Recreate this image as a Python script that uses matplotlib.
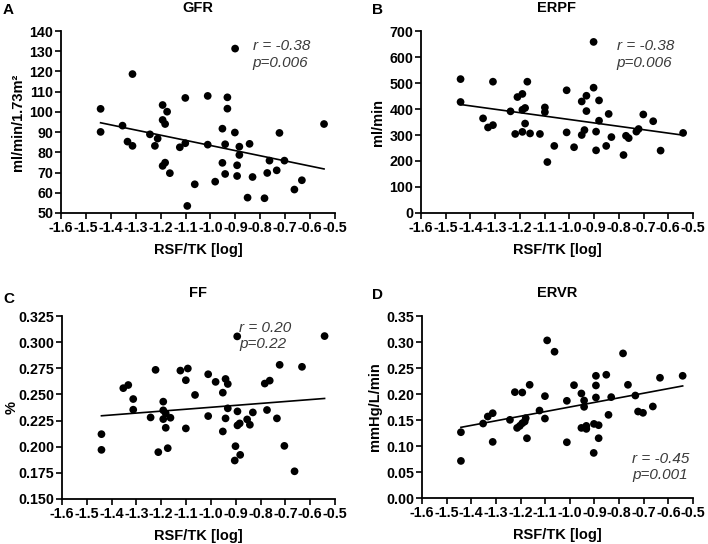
import numpy as np
import matplotlib
matplotlib.use("Agg")
import matplotlib.pyplot as plt

plt.rcParams['font.family'] = ['Liberation Sans', 'DejaVu Sans']

# ---------------- data ----------------
gfr_x = [-1.441, -1.441, -1.313, -1.353, -1.333, -1.313, -1.243, -1.212, -1.223, -1.192,
         -1.174, -1.192, -1.182, -1.192, -1.182, -1.163, -1.123, -1.101, -1.101, -1.063,
         -1.093, -0.901, -1.011, -0.932, -0.932, -0.952, -0.902, -1.011, -0.941, -0.884,
         -0.884, -0.843, -0.952, -0.893, -0.941, -0.893, -0.981, -0.831, -0.851, -0.783,
         -0.763, -0.772, -0.734, -0.723, -0.703, -0.633, -0.663, -0.544]
gfr_y = [101.5, 90.1, 118.7, 93.2, 85.3, 83.2, 88.9, 86.8, 83.2, 103.4,
         100.1, 96.0, 94.0, 73.3, 74.9, 69.7, 82.5, 84.5, 106.9, 64.2,
         53.5, 131.3, 107.9, 107.2, 101.6, 91.7, 89.8, 83.8, 84.0, 82.8,
         78.7, 84.2, 74.8, 73.6, 69.3, 68.3, 65.5, 67.8, 57.6, 57.3,
         75.9, 69.8, 71.1, 89.6, 75.9, 66.2, 61.6, 94.0]

erpf_x = [-1.440, -1.440, -1.309, -1.349, -1.329, -1.309, -1.238, -1.210, -1.190, -1.170,
          -1.190, -1.179, -1.179, -1.219, -1.190, -1.159, -1.119, -1.099, -1.099, -1.061,
          -1.089, -0.902, -1.011, -0.902, -0.931, -0.950, -0.880, -0.931, -0.841, -0.880,
          -0.701, -0.661, -1.011, -0.939, -0.950, -0.892, -0.892, -0.851, -0.830, -0.981,
          -0.781, -0.771, -0.760, -0.729, -0.720, -0.631, -0.540]
erpf_y = [515, 427, 505, 364, 329, 338, 391, 446, 458, 505,
          397, 404, 344, 304, 312, 306, 304, 406, 388, 258,
          196, 658, 472, 482, 451, 429, 433, 392, 381, 355,
          379, 353, 310, 319, 300, 313, 241, 258, 292, 253,
          223, 297, 288, 313, 323, 240, 308]

ff_x = [-1.441, -1.441, -1.353, -1.333, -1.313, -1.313, -1.243, -1.223, -1.212, -1.192,
        -1.192, -1.182, -1.192, -1.163, -1.182, -1.174, -1.123, -1.093, -1.101, -1.064,
        -1.101, -0.894, -0.542, -1.011, -0.981, -0.941, -0.932, -0.952, -0.723, -0.633,
        -0.783, -0.763, -0.932, -0.893, -0.831, -1.011, -0.941, -0.774, -0.734, -0.893,
        -0.884, -0.854, -0.843, -0.952, -0.901, -0.882, -0.904, -0.704, -0.663]
ff_y = [0.212, 0.197, 0.256, 0.259, 0.2456, 0.2354, 0.228, 0.2735, 0.1948, 0.2431,
        0.2348, 0.2319, 0.2264, 0.2277, 0.2181, 0.1986, 0.2728, 0.2748, 0.2636, 0.2495,
        0.2175, 0.3055, 0.3058, 0.2693, 0.262, 0.2648, 0.260, 0.2517, 0.2783, 0.2764,
        0.2604, 0.2632, 0.2367, 0.2338, 0.2328, 0.2293, 0.2271, 0.2351, 0.2271, 0.2204,
        0.2223, 0.2261, 0.221, 0.2146, 0.2005, 0.1922, 0.1868, 0.2008, 0.1765]

ervr_x = [-1.442, -1.442, -1.352, -1.333, -1.313, -1.313, -1.243, -1.223, -1.193, -1.163,
          -1.214, -1.203, -1.193, -1.183, -1.179, -1.174, -1.123, -1.101, -1.101, -1.092,
          -1.062, -0.784, -1.012, -1.012, -0.983, -0.953, -0.953, -0.942, -0.942, -0.933,
          -0.933, -0.903, -0.902, -0.894, -0.894, -0.894, -0.883, -0.883, -0.852, -0.843,
          -0.832, -0.764, -0.734, -0.723, -0.703, -0.663, -0.634, -0.542]
ervr_y = [0.1265, 0.0713, 0.1432, 0.1567, 0.1631, 0.1079, 0.1503, 0.2036, 0.2029, 0.2177,
          0.1348, 0.1387, 0.1438, 0.147, 0.1535, 0.1149, 0.1682, 0.1959, 0.1528, 0.3031,
          0.2813, 0.2781, 0.1869, 0.1072, 0.217, 0.201, 0.1348, 0.1875, 0.1753, 0.1387,
          0.1329, 0.0867, 0.1425, 0.235, 0.2164, 0.1933, 0.140, 0.115, 0.237, 0.1599,
          0.194, 0.2177, 0.1971, 0.1663, 0.1638, 0.176, 0.2312, 0.235]

x_ticks = [-1.6, -1.5, -1.4, -1.3, -1.2, -1.1, -1.0, -0.9, -0.8, -0.7, -0.6, -0.5]
x_tick_labels = ['-1.6', '-1.5', '-1.4', '-1.3', '-1.2', '-1.1', '-1.0', '-0.9', '-0.8', '-0.7', '-0.6', '-0.5']

panels = [
    dict(letter='A', title='GFR', x=gfr_x, y=gfr_y, ylabel='ml/min/1.73m\u00b2',
         yticks=[50, 60, 70, 80, 90, 100, 110, 120, 130, 140], yfmt='{:.0f}',
         stat='r = -0.38\np=0.006', statpos=(0.70, 0.955),
         rect=(61, 31, 335, 213), letterpos=(3, 10), ylpad=3),
    dict(letter='B', title='ERPF', x=erpf_x, y=erpf_y, ylabel='ml/min',
         yticks=[0, 100, 200, 300, 400, 500, 600, 700], yfmt='{:.0f}',
         stat='r = -0.38\np=0.006', statpos=(0.72, 0.955),
         rect=(421, 31, 693, 213), letterpos=(372, 10), ylpad=3),
    dict(letter='C', title='FF', x=ff_x, y=ff_y, ylabel='%',
         yticks=[0.150, 0.175, 0.200, 0.225, 0.250, 0.275, 0.300, 0.325], yfmt='{:.3f}',
         stat='r = 0.20\np=0.22', statpos=(0.65, 0.975),
         rect=(62, 316, 335, 499), letterpos=(3, 299), ylpad=0),
    dict(letter='D', title='ERVR', x=ervr_x, y=ervr_y, ylabel='mmHg/L/min',
         yticks=[0.00, 0.05, 0.10, 0.15, 0.20, 0.25, 0.30, 0.35], yfmt='{:.2f}',
         stat='r = -0.45\np=0.001', statpos=(0.775, 0.255),
         rect=(422, 316, 693, 498), letterpos=(372, 295), ylpad=3),
]

W, H = 708, 544
fig = plt.figure(figsize=(W / 100, H / 100), dpi=100)

for p in panels:
    x0, y0, x1, y1 = p['rect']
    ax = fig.add_axes([x0 / W, 1 - y1 / H, (x1 - x0) / W, (y1 - y0) / H])
    xs = np.array(p['x'])
    ys = np.array(p['y'])
    ax.scatter(xs, ys, s=31, color='black', edgecolors='none', zorder=3, clip_on=False)
    k, b = np.polyfit(xs, ys, 1)
    lx = np.array([xs.min(), xs.max()])
    ax.plot(lx, k * lx + b, color='black', lw=1.2, zorder=2)

    ax.set_xlim(-1.6, -0.5)
    ax.set_ylim(p['yticks'][0], p['yticks'][-1])
    ax.set_xticks(x_ticks)
    ax.set_xticklabels(x_tick_labels)
    ax.set_yticks(p['yticks'])
    ax.set_yticklabels([p['yfmt'].format(v) for v in p['yticks']])
    for lab in ax.get_xticklabels() + ax.get_yticklabels():
        lab.set_fontweight('bold')
        lab.set_fontsize(10.3)
    ax.tick_params(direction='out', length=4, width=1.2, pad=1.5)
    for s in ['top', 'right']:
        ax.spines[s].set_visible(False)
    for s in ['left', 'bottom']:
        ax.spines[s].set_linewidth(1.3)
    ax.set_xlabel('RSF/TK [log]', fontsize=10.5, fontweight='bold', labelpad=6)
    ax.set_ylabel(p['ylabel'], fontsize=10.5, fontweight='bold', labelpad=p['ylpad'])
    ax.set_title(p['title'], fontsize=10.5, fontweight='bold', pad=14)
    ax.text(p['statpos'][0], p['statpos'][1], p['stat'], transform=ax.transAxes,
            ha='left', va='top', fontsize=11, style='italic', color='#3a3a3a',
            linespacing=1.25)
    fig.text(p['letterpos'][0] / W, 1 - p['letterpos'][1] / H, p['letter'],
             fontsize=11, fontweight='bold', ha='left', va='center')

fig.savefig('out.png', dpi=100)
